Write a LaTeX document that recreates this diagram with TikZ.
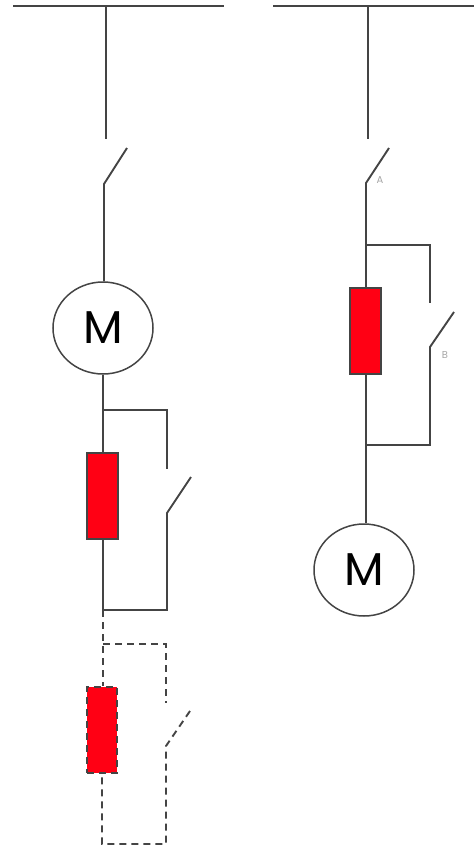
\documentclass[tikz,border=0pt]{standalone}
\usepackage{fontspec}
\setmainfont{Poppins}
\usetikzlibrary{positioning,shapes.geometric}
\definecolor{wire}{HTML}{444444}
\definecolor{heat}{HTML}{FF0014}

\begin{document}
\begin{tikzpicture}[x=1pt,y=-1pt,line width=1.9pt,draw=wire,
    motor/.style={ellipse,draw,line width=1.5pt,minimum width=100pt,minimum height=92pt,inner sep=0pt,
      font=\fontsize{46}{46}\selectfont},
    relay/.style={rectangle,draw,line width=2pt,fill=heat,minimum width=31pt,minimum height=86pt,inner sep=0pt},
    ghost/.style={dashed,dash pattern=on 7pt off 5pt},
    tag/.style={font=\fontsize{10}{10}\selectfont,text=black!35,inner sep=0pt}]
  \useasboundingbox (0,0) rectangle (474,846);

  % left column
  \coordinate (busL1) at (13,6);
  \coordinate (busL2) at (224,6);
  \coordinate (busLt) at (106,6);
  \coordinate (inL)   at (106,139);
  \coordinate (swLb)  at (104,184);
  \coordinate (swLt)  at (127,148);
  \node[motor] (motL) at (103,328) {\textcolor{black}{M}};
  \node[relay] (relL) at (102.5,496) {};
  \coordinate (tapL1) at (103,410);
  \coordinate (cnrL1) at (167,410);
  \coordinate (endL1) at (167,469);
  \coordinate (swL2b) at (167,513);
  \coordinate (swL2t) at (191,477);
  \coordinate (cnrL2) at (167,610);
  \coordinate (tapL2) at (103,610);

  \draw (busL1) -- (busL2);
  \draw (busLt) -- (inL);
  \draw (swLt) -- (swLb) -- (motL.north -| swLb);
  \draw (motL.south) -- (relL.north -| motL.south);
  \draw (tapL1) -- (cnrL1) -- (endL1);
  \draw (swL2t) -- (swL2b) -- (cnrL2) -- (tapL2);
  \draw (relL.south -| tapL2) -- (tapL2);

  % dashed copy
  \node[relay,ghost,minimum width=30pt] (relD) at (102,730) {};
  \coordinate (tapD1) at (103,644);
  \coordinate (cnrD1) at (166,644);
  \coordinate (endD1) at (166,703);
  \coordinate (swDb)  at (166,746);
  \coordinate (swDt)  at (190,711);
  \coordinate (cnrD2) at (166,844);
  \coordinate (tapD2) at (102,844);

  \draw[ghost] (tapL2) -- (relD.north -| tapL2);
  \draw[ghost] (tapD1) -- (cnrD1) -- (endD1);
  \draw[ghost] (swDt) -- (swDb) -- (cnrD2) -- (tapD2) -- (relD.south);

  % right column
  \coordinate (busR1) at (273,6);
  \coordinate (busR2) at (474,6);
  \coordinate (busRt) at (368,6);
  \coordinate (inR)   at (368,139);
  \coordinate (swRb)  at (366,183);
  \coordinate (swRt)  at (389,148);
  \node[relay] (relR) at (365.5,331) {};
  \node[motor] (motR) at (364,570) {\textcolor{black}{M}};
  \coordinate (tapR1) at (366,245);
  \coordinate (cnrR1) at (430,245);
  \coordinate (endR1) at (430,303);
  \coordinate (swR2b) at (430,347);
  \coordinate (swR2t) at (454,312);
  \coordinate (cnrR2) at (430,445);
  \coordinate (tapR2) at (366,445);
  \node[tag] (tagA) at (380,180) {A};
  \node[tag] (tagB) at (445,355) {B};

  \draw (busR1) -- (busR2);
  \draw (busRt) -- (inR);
  \draw (swRt) -- (swRb) -- (relR.north -| swRb);
  \draw (tapR1) -- (cnrR1) -- (endR1);
  \draw (swR2t) -- (swR2b) -- (cnrR2) -- (tapR2);
  \draw (relR.south -| tapR2) -- (tapR2) -- (motR.north -| tapR2);
\end{tikzpicture}
\end{document}
